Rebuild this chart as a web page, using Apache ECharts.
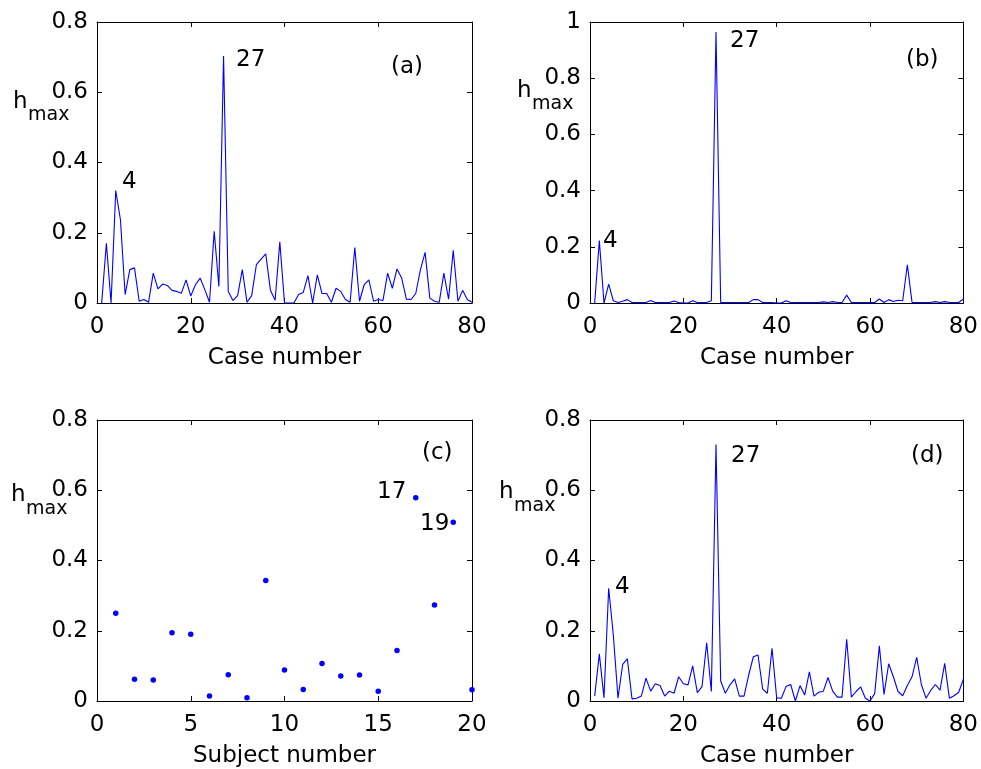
<!DOCTYPE html>
<html>
<head>
<meta charset="utf-8">
<script src="https://cdn.jsdelivr.net/npm/echarts@6/dist/echarts.min.js"></script>
<style>
  html, body { margin: 0; padding: 0; background: #fff; }
  #main { width: 981px; height: 769px; }
</style>
</head>
<body>
<div id="main"></div>
<script>
// h_max per case, panels (a), (b), (d): case 1..80
var hA = [0, 0.17, 0, 0.32, 0.237, 0.024, 0.095, 0.10, 0.005, 0.01,
  0.002, 0.085, 0.04, 0.054, 0.05, 0.036, 0.033, 0.028, 0.066, 0.02,
  0.052, 0.071, 0.038, 0.002, 0.204, 0.047, 0.703, 0.033, 0.007, 0.021,
  0.095, 0.002, 0.021, 0.109, 0.125, 0.14, 0.036, 0.008, 0.174, 0,
  0, 0, 0.024, 0.03, 0.078, 0, 0.08, 0.027, 0.027, 0.002,
  0.042, 0.033, 0.01, 0.002, 0.158, 0.005, 0.052, 0.066, 0.005, 0.01,
  0.007, 0.085, 0.042, 0.097, 0.071, 0.011, 0.01, 0.027, 0.095, 0.144,
  0.014, 0.005, 0.002, 0.085, 0.011, 0.15, 0.005, 0.036, 0.01, 0.002];

var hB = [0, 0.222, 0, 0.067, 0.008, 0.002, 0.006, 0.012, 0.002, 0.002,
  0.002, 0.002, 0.009, 0.002, 0.002, 0.002, 0.002, 0.007, 0.002, 0,
  0, 0.008, 0.002, 0.002, 0.002, 0.008, 0.964, 0.002, 0.002, 0.002,
  0.002, 0.002, 0.002, 0.002, 0.012, 0.012, 0.002, 0.002, 0.002, 0,
  0, 0.008, 0.002, 0.002, 0.002, 0.002, 0.002, 0.002, 0.002, 0.004,
  0.002, 0.005, 0.002, 0.002, 0.028, 0.002, 0.002, 0.002, 0.002, 0.002,
  0.002, 0.014, 0.002, 0.012, 0.005, 0.01, 0.008, 0.136, 0.002, 0.002,
  0.002, 0.002, 0.002, 0.005, 0.002, 0.005, 0.002, 0.002, 0.002, 0.014];

var hD = [0.014, 0.134, 0.009, 0.321, 0.188, 0.008, 0.104, 0.12, 0.006, 0.008,
  0.014, 0.065, 0.028, 0.049, 0.044, 0.014, 0.028, 0.022, 0.069, 0.049,
  0.046, 0.1, 0.024, 0.041, 0.166, 0.027, 0.73, 0.057, 0.022, 0.046,
  0.063, 0.014, 0.014, 0.074, 0.126, 0.131, 0.034, 0.022, 0.15, 0.009,
  0.008, 0.041, 0.047, 0, 0.044, 0.017, 0.083, 0.014, 0.025, 0.028,
  0.067, 0.028, 0.011, 0.011, 0.176, 0.011, 0.027, 0.04, 0.008, 0,
  0.021, 0.157, 0.019, 0.106, 0.069, 0.027, 0.015, 0.044, 0.069, 0.124,
  0.047, 0.008, 0.03, 0.047, 0.031, 0.107, 0.008, 0.015, 0.025, 0.062];

// h_max per subject, panel (c): subject 1..20
var hC = [0.25, 0.062, 0.06, 0.194, 0.19, 0.014, 0.075, 0.009, 0.343, 0.088,
  0.033, 0.107, 0.071, 0.074, 0.028, 0.144, 0.579, 0.273, 0.509, 0.032];

function pairs(vals) {
  return vals.map(function (v, i) { return [i + 1, v]; });
}

var FONT = '"DejaVu Sans", Arial, sans-serif';
var grids = [
  { left: 97, top: 22, width: 375, height: 281 },
  { left: 590, top: 22, width: 375, height: 281 },
  { left: 97, top: 420, width: 375, height: 281 },
  { left: 590, top: 420, width: 375, height: 281 }
];

var xAxes = [], yAxes = [];
function box(g, xMax, xStep, yMax, yStep, xName) {
  var line = { show: true, onZero: false, lineStyle: { color: '#000', width: 1 } };
  var tick = { show: true, inside: true, length: 5, lineStyle: { color: '#000' } };
  xAxes.push({
    type: 'value', gridIndex: g, min: 0, max: xMax, interval: xStep, position: 'bottom',
    name: xName, nameLocation: 'middle', nameGap: 44,
    nameTextStyle: { color: '#000', fontSize: 23, fontFamily: FONT },
    axisLine: line, axisTick: tick, splitLine: { show: false },
    axisLabel: { color: '#000', fontSize: 23, fontFamily: FONT, margin: 13 }
  });
  xAxes.push({
    type: 'value', gridIndex: g, min: 0, max: xMax, interval: xStep, position: 'top',
    axisLine: line, axisTick: tick, splitLine: { show: false }, axisLabel: { show: false }
  });
  yAxes.push({
    type: 'value', gridIndex: g, min: 0, max: yMax, interval: yStep, position: 'left',
    axisLine: line, axisTick: tick, splitLine: { show: false },
    axisLabel: { color: '#000', fontSize: 23, fontFamily: FONT, margin: 9 }
  });
  yAxes.push({
    type: 'value', gridIndex: g, min: 0, max: yMax, interval: yStep, position: 'right',
    axisLine: line, axisTick: tick, splitLine: { show: false }, axisLabel: { show: false }
  });
}
box(0, 80, 20, 0.8, 0.2, 'Case number');
box(1, 80, 20, 1, 0.2, 'Case number');
box(2, 20, 5, 0.8, 0.2, 'Subject number');
box(3, 80, 20, 0.8, 0.2, 'Case number');

function lineSeries(g, vals) {
  return {
    type: 'line', xAxisIndex: g * 2, yAxisIndex: g * 2, data: pairs(vals),
    showSymbol: false, symbol: 'none', lineStyle: { color: '#0000ff', width: 1.1 }
  };
}

function txt(x, y, s, size) {
  return { type: 'text', style: { x: x, y: y, text: s, fill: '#000', font: (size || 23) + 'px ' + FONT, textAlign: 'left', textVerticalAlign: 'middle' } };
}

var graphics = [
  // y axis labels h_max
  txt(13, 102, 'h'), txt(28, 115, 'max', 19),
  txt(517, 91, 'h'), txt(532, 104, 'max', 19),
  txt(11, 495, 'h'), txt(26, 509, 'max', 19),
  txt(499, 492, 'h'), txt(514, 506, 'max', 19),
  // annotations
  txt(236, 60, '27'), txt(122, 182, '4'), txt(391, 67, '(a)'),
  txt(730, 41, '27'), txt(603, 241, '4'), txt(906, 60, '(b)'),
  txt(422, 453, '(c)'), txt(377, 492, '17'), txt(420, 524, '19'),
  txt(731, 456, '27'), txt(615, 587, '4'), txt(911, 456, '(d)')
];

var chart = echarts.init(document.getElementById('main'));
chart.setOption({
  backgroundColor: '#fff',
  animation: false,
  grid: grids,
  xAxis: xAxes,
  yAxis: yAxes,
  series: [
    lineSeries(0, hA),
    lineSeries(1, hB),
    {
      type: 'scatter', xAxisIndex: 4, yAxisIndex: 4, data: pairs(hC),
      symbol: 'circle', symbolSize: 5.5, itemStyle: { color: '#0000ff', opacity: 1 }
    },
    lineSeries(3, hD)
  ],
  graphic: graphics
});
</script>
</body>
</html>
